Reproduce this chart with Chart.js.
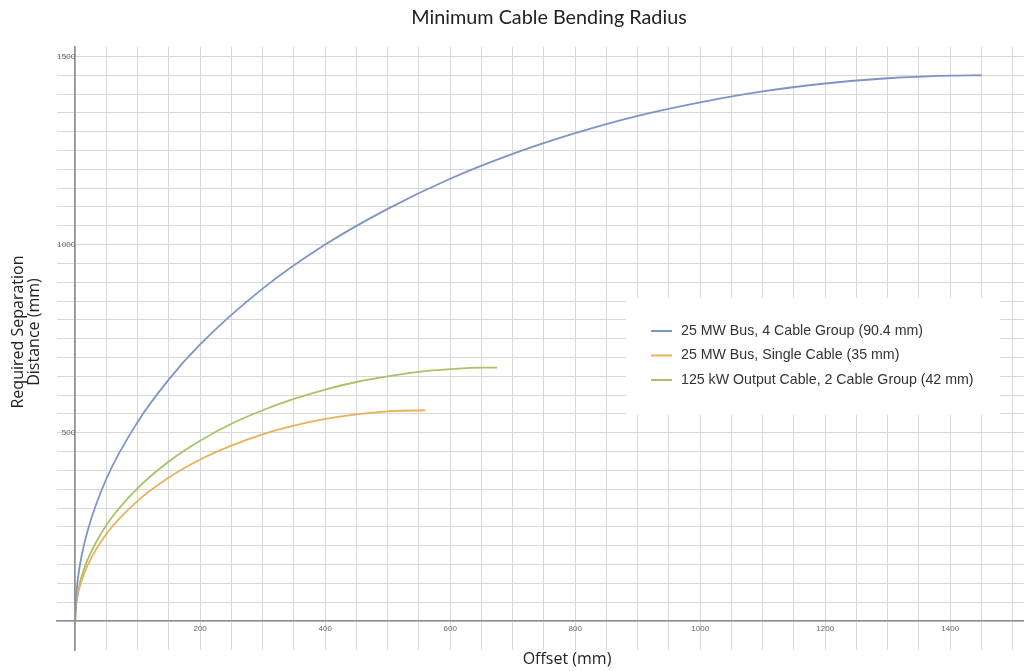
<!DOCTYPE html>
<html>
<head>
<meta charset="utf-8">
<title>Minimum Cable Bending Radius</title>
<script src="https://cdn.jsdelivr.net/npm/chart.js@4/dist/chart.umd.min.js"></script>
<style>
  html, body { margin: 0; padding: 0; background: #fff; }
  #bendChart { display: block; }
</style>
</head>
<body>
<canvas id="bendChart" width="1024" height="671"></canvas>
<script>
// series (offset mm -> required separation mm)
const seriesNames = [
    "25 MW Bus, 4 Cable Group (90.4 mm)",
    "25 MW Bus, Single Cable (35 mm)",
    "125 kW Output Cable, 2 Cable Group (42 mm)",
];
const seriesColors = ["#7b95c6", "#ebb05c", "#a6c466"];

const busGroupOffset = [0, 1, 2, 5, 10, 20, 50, 100, 150, 200, 300, 400, 500, 600, 700, 800, 900, 1000, 1100, 1200, 1300, 1400, 1450];
const busGroupSep = [0, 54, 76, 120, 170, 240, 378, 529, 642, 735, 883, 1000, 1095, 1175, 1241, 1296, 1342, 1378, 1407, 1428, 1442, 1449, 1450];

const busSingleOffset = [0, 1, 2, 5, 10, 20, 50, 100, 150, 200, 250, 300, 350, 400, 450, 500, 560];
const busSingleSep = [0, 33, 47, 75, 105, 148, 231, 319, 381, 429, 466, 496, 519, 537, 549, 557, 560];

const outputOffset = [0, 1, 2, 5, 10, 20, 50, 100, 150, 200, 250, 300, 350, 400, 450, 500, 550, 600, 650, 675];
const outputSep = [0, 37, 52, 82, 116, 163, 255, 353, 424, 479, 524, 560, 590, 615, 635, 650, 662, 669, 673, 673];

// axis ticks (labelled ones), grid every 50 mm
const xTickLabels = [200, 400, 600, 800, 1000, 1200, 1400];
const yTickLabels = [500, 1000, 1500];
const gridStep = 50;
const xGridMax = 1500;
const yGridMax = 1500;

function toPoints(xs, ys) {
    return xs.map((x, i) => ({ x: x, y: ys[i] }));
}

function gridTicks(max) {
    const out = [];
    for (let v = 0; v <= max; v += gridStep) out.push({ value: v });
    return out;
}

// title, axis titles and the boxed legend
const textPlugin = {
    id: "texts",
    afterDraw(chart) {
        const c = chart.ctx;
        c.save();
        c.fillStyle = "#222";
        c.textAlign = "center";
        c.textBaseline = "middle";
        c.font = "19.8px Lato, 'Open Sans', sans-serif";
        c.fillText("Minimum Cable Bending Radius", 549, 18);
        c.font = "16px 'Open Sans', sans-serif";
        c.fillText("Offset (mm)", 567, 659);
        c.translate(18, 332);
        c.rotate(-Math.PI / 2);
        c.fillText("Required Separation", 0, 0);
        c.fillText("Distance (mm)", 0, 16);
        c.restore();

        // legend box
        c.save();
        c.fillStyle = "#fff";
        c.fillRect(626, 298, 374, 117);
        c.font = "14.2px 'Liberation Sans', Arial, sans-serif";
        c.textBaseline = "middle";
        c.textAlign = "left";
        chart.data.datasets.forEach((ds, i) => {
            const y = 331 + i * 24.5;
            c.strokeStyle = ds.borderColor;
            c.lineWidth = 2;
            c.beginPath();
            c.moveTo(651, y);
            c.lineTo(672, y);
            c.stroke();
            c.fillStyle = "#333";
            c.fillText(ds.label, 681, y);
        });
        c.restore();
    },
};

const ctx = document.getElementById("bendChart").getContext("2d");
new Chart(ctx, {
    type: "line",
    data: {
        datasets: [
            { label: seriesNames[0], data: toPoints(busGroupOffset, busGroupSep), borderColor: seriesColors[0] },
            { label: seriesNames[1], data: toPoints(busSingleOffset, busSingleSep), borderColor: seriesColors[1] },
            { label: seriesNames[2], data: toPoints(outputOffset, outputSep), borderColor: seriesColors[2] },
        ],
    },
    options: {
        responsive: false,
        animation: false,
        layout: { padding: { left: 57, right: 0, top: 47, bottom: 21 } },
        elements: {
            point: { radius: 0 },
            line: { borderWidth: 1.8, fill: false, cubicInterpolationMode: "monotone" },
        },
        plugins: {
            legend: { display: false },
            title: { display: false },
            tooltip: { enabled: false },
        },
        scales: {
            x: {
                type: "linear",
                min: -29,
                max: 1518,
                position: { y: 0 },
                afterBuildTicks: (scale) => { scale.ticks = gridTicks(xGridMax); },
                grid: { color: "#d8d8d8", drawTicks: false },
                border: { color: "#8e8e8e", width: 1.6 },
                ticks: {
                    autoSkip: false,
                    maxRotation: 0,
                    padding: 3,
                    color: "#666",
                    font: { family: "'Liberation Sans', Arial, sans-serif", size: 8 },
                    callback: (v) => (xTickLabels.includes(v) ? String(v) : ""),
                },
            },
            y: {
                type: "linear",
                min: -77,
                max: 1525,
                position: { x: 0 },
                afterBuildTicks: (scale) => { scale.ticks = gridTicks(yGridMax); },
                grid: { color: "#d8d8d8", drawTicks: false },
                border: { color: "#8e8e8e", width: 1.6 },
                ticks: {
                    autoSkip: false,
                    padding: 6,
                    color: "#666",
                    font: { family: "'Liberation Sans', Arial, sans-serif", size: 8 },
                    callback: (v) => (yTickLabels.includes(v) ? String(v) : ""),
                },
            },
        },
    },
    plugins: [textPlugin],
});
</script>
</body>
</html>
